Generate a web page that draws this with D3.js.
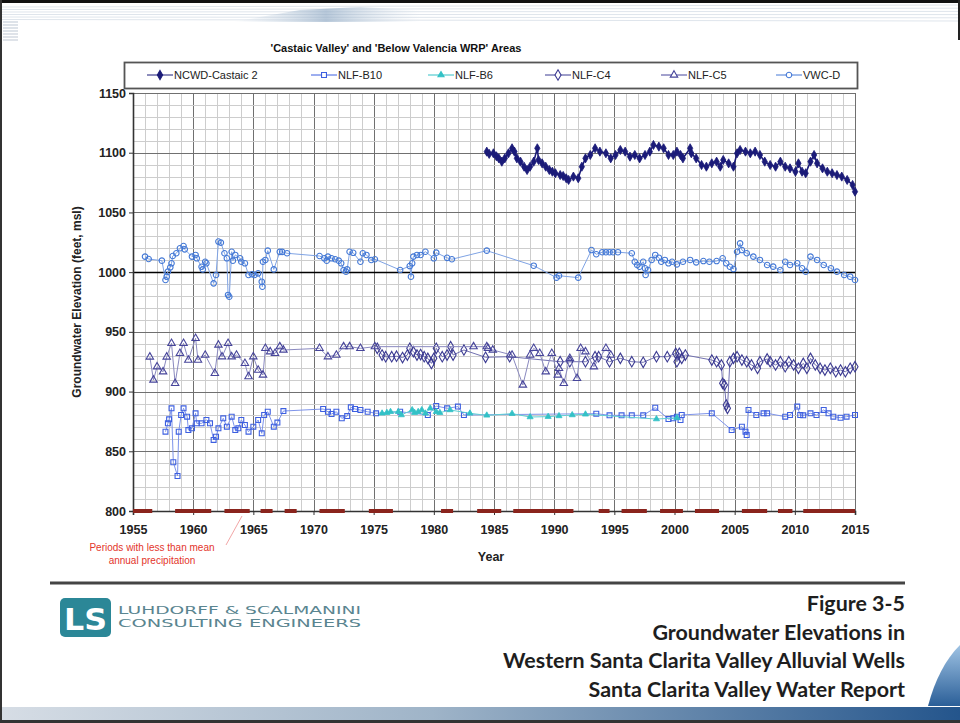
<!DOCTYPE html>
<html>
<head>
<meta charset="utf-8">
<script src="https://cdn.jsdelivr.net/npm/d3@7"></script>
<style>
  body { margin: 0; background: #fff; }
  svg { display: block; font-family: "Liberation Sans", Arial, sans-serif; }
</style>
</head>
<body>
<div id="chart"></div>
<script>
// ---- data: [year, elevation (ft msl)] ----
var ncwdCastaic2 = [[1984.4,1100.9],[1984.6,1099],[1984.95,1099.5],[1985.2,1097],[1985.4,1095.3],[1985.65,1092.5],[1985.9,1095.3],[1986.2,1099.5],[1986.5,1103.7],[1986.7,1100.9],[1986.9,1095.3],[1987.2,1092.5],[1987.5,1088.3],[1987.75,1085.5],[1988.0,1088.3],[1988.3,1092.5],[1988.6,1103.7],[1988.7,1093.9],[1989.0,1091.1],[1989.3,1088.3],[1989.6,1085.5],[1989.85,1084.1],[1990.1,1082.8],[1990.5,1081.3],[1990.75,1080.5],[1991.0,1078.6],[1991.2,1077.2],[1991.6,1080],[1992.0,1078.6],[1992.3,1088.3],[1992.6,1095.3],[1993.0,1098.1],[1993.4,1103.7],[1993.8,1100.9],[1994.3,1099.5],[1994.7,1095.3],[1995.1,1098.1],[1995.5,1102.3],[1995.9,1100.9],[1996.3,1096.7],[1996.7,1098.1],[1997.1,1095.3],[1997.55,1098.1],[1997.95,1100.9],[1998.25,1106.5],[1998.7,1105.1],[1999.1,1103.7],[1999.5,1098.1],[1999.9,1098.1],[2000.2,1100.9],[2000.5,1098.1],[2000.7,1095.3],[2001.3,1103.7],[2001.4,1099.5],[2001.8,1095.3],[2002.25,1089.7],[2002.65,1088.3],[2003.1,1091.1],[2003.5,1092.5],[2003.8,1088.3],[2004.05,1093.9],[2004.5,1091.1],[2004.9,1088.3],[2005.2,1099.5],[2005.45,1102.3],[2005.9,1100.9],[2006.3,1099.5],[2006.7,1100.9],[2007.1,1098.1],[2007.5,1092.5],[2007.95,1089.7],[2008.4,1088.3],[2008.8,1092.5],[2009.2,1088.3],[2009.6,1086.9],[2010.05,1084.1],[2010.3,1091.1],[2010.6,1084.1],[2010.9,1082.8],[2011.3,1092.5],[2011.6,1098.1],[2011.85,1091.1],[2012.3,1086.9],[2012.7,1084.1],[2013.1,1082.8],[2013.5,1081.3],[2013.9,1080],[2014.35,1077.2],[2014.8,1073],[2015.0,1067.4]];

var nlfB10 = [[1957.7,866.4],[1957.9,873.4],[1958.0,876.8],[1958.2,886],[1958.35,840.8],[1958.7,829.3],[1958.8,866.4],[1959.0,880.4],[1959.2,886],[1959.5,879],[1959.6,867.8],[1959.9,869.2],[1960.2,881.8],[1960.3,873.4],[1960.7,873.4],[1961.1,876.2],[1961.4,873.4],[1961.7,859.5],[1961.9,862.2],[1962.1,869.2],[1962.5,877.6],[1962.8,870.6],[1963.2,879],[1963.5,867.8],[1963.75,869.2],[1964.0,876.2],[1964.3,872],[1964.6,866.4],[1965.0,870.6],[1965.4,876.2],[1965.7,865],[1965.9,880.4],[1966.2,883.1],[1966.7,870.6],[1967.0,874],[1967.5,883.7],[1970.8,885.4],[1971.2,883.1],[1971.5,881.2],[1971.9,883.1],[1972.35,877.6],[1972.8,879.5],[1973.1,886.8],[1973.45,885.4],[1973.9,884.6],[1974.5,883.1],[1975.2,881.8],[1977.2,883.1],[1979.5,880.4],[1980.2,887.9],[1981.1,886],[1982.0,887.4],[1982.5,880.4],[1993.5,881.5],[1994.6,880.1],[1995.6,880.1],[1996.45,880.1],[1997.4,880.1],[1998.4,886.5],[1999.5,877],[1999.9,877.6],[2000.2,879],[2000.5,876.2],[2000.6,880.4],[2003.1,881.8],[2004.75,867.8],[2005.6,870.6],[2005.9,866.4],[2006.0,863.6],[2006.15,884.6],[2006.8,880.4],[2007.4,881.8],[2007.7,881.8],[2009.2,879],[2009.6,880.4],[2010.2,887.4],[2010.45,880.4],[2010.7,880.1],[2011.3,881.8],[2011.8,880.4],[2012.4,884.6],[2012.8,881.8],[2013.2,879],[2013.8,878.1],[2014.3,879],[2015.0,880.4]];

var nlfB6 = [[1975.7,881.8],[1976.1,882.3],[1976.4,883.1],[1977.05,883.1],[1977.3,880.4],[1978.2,884.6],[1978.4,882.3],[1978.7,883.1],[1979.0,884.6],[1979.3,881.8],[1979.7,886],[1980.2,883.1],[1980.5,882.3],[1981.35,884.6],[1983.0,881.8],[1984.4,880.1],[1986.5,881.5],[1988.0,878.7],[1989.5,879],[1990.4,879.6],[1991.5,880.4],[1992.6,881],[1998.5,877],[2000.2,878]];

var nlfC4 = [[1975.3,936.2],[1975.7,930.6],[1976.0,929.2],[1976.5,929.2],[1976.9,929.6],[1977.4,928.5],[1977.8,930.6],[1978.0,936.2],[1978.3,933.4],[1978.6,930.6],[1978.9,931],[1979.2,929.2],[1979.5,927.8],[1979.8,923.6],[1980.0,927.8],[1980.2,936.2],[1980.7,929.2],[1981.1,930.6],[1981.4,937.6],[1981.6,930.6],[1982.5,934.8],[1984.3,928.7],[1986.3,929.2],[1990.5,925],[1991.3,925],[1992.6,925],[1993.4,929.2],[1993.7,929.2],[1994.6,925],[1995.5,927.8],[1996.45,925],[1997.4,924.5],[1998.5,929.2],[1999.4,929.2],[2000.1,932],[2000.2,925],[2000.4,932],[2000.6,927.8],[2000.9,930.6],[2003.1,926.4],[2003.5,925],[2003.9,922.3],[2004.0,906.9],[2004.15,905.5],[2004.3,888.7],[2004.4,886],[2004.6,925],[2004.9,927.8],[2005.2,929.2],[2005.6,926.4],[2006.0,925],[2006.4,922.3],[2006.9,919.5],[2007.1,925],[2007.7,927.3],[2007.95,925],[2008.4,922.3],[2008.8,925],[2009.2,920.8],[2009.5,925],[2009.9,922.3],[2010.3,919.5],[2010.7,923.6],[2011.0,919.5],[2011.3,927.8],[2011.7,922.3],[2012.1,919.5],[2012.5,918],[2012.95,919.5],[2013.4,916.6],[2013.8,918],[2014.2,916.6],[2014.6,919.5],[2015.0,920.8]];

var nlfC5 = [[1956.4,929],[1956.7,909.7],[1957.0,920.8],[1957.5,916.6],[1957.8,929],[1958.2,940.4],[1958.5,906.9],[1958.9,932],[1959.2,940.4],[1959.6,926.4],[1960.2,944.6],[1960.4,926.4],[1961.0,930.6],[1961.8,915.3],[1962.1,939],[1962.4,929.2],[1962.9,940.4],[1963.2,929.2],[1963.6,930.6],[1964.3,923.6],[1964.6,912.5],[1965.0,929.2],[1965.4,918],[1965.8,913.9],[1966.0,936.2],[1966.4,933.4],[1966.8,932],[1967.2,937.6],[1967.5,934.8],[1970.5,936.2],[1971.2,929.2],[1971.9,930.6],[1972.5,937.6],[1973.0,937.6],[1973.9,936.2],[1975.1,937.6],[1983.3,937.6],[1984.4,937.6],[1984.5,936.2],[1984.9,934.8],[1986.5,930.6],[1987.4,905.5],[1988.0,930.6],[1988.3,936.2],[1988.8,932],[1989.3,916.6],[1989.8,932],[1990.3,913.9],[1990.4,919.5],[1990.8,906.9],[1991.3,927.8],[1991.9,911.1],[1992.2,936.2],[1992.6,933.4],[1993.3,920.8],[1994.3,936.2],[1994.7,930.6]];

var vwcD = [[1956.0,1013],[1956.3,1011],[1957.4,1009.6],[1957.7,993.4],[1957.8,996.2],[1957.9,1000.4],[1958.1,1004],[1958.2,1007.4],[1958.3,1013.5],[1958.6,1015.8],[1958.9,1020],[1959.2,1021.9],[1959.3,1019.1],[1959.9,1013],[1960.2,1014.4],[1960.3,1011.6],[1960.7,1004.5],[1960.8,1002.3],[1961.0,1008.7],[1961.1,1007.4],[1961.7,990.6],[1961.9,997.6],[1962.1,1025.6],[1962.3,1024.7],[1962.6,1015.8],[1962.8,1011.6],[1962.9,980.9],[1963.0,979.4],[1963.2,1017.1],[1963.3,1009.6],[1963.5,1014.4],[1963.9,1011.6],[1964.0,1008.7],[1964.3,1007.4],[1964.6,997.6],[1964.9,998.2],[1965.1,997.6],[1965.4,999],[1965.7,992],[1965.75,987.8],[1965.8,1008.7],[1966.0,1010.2],[1966.2,1018],[1966.7,1002.3],[1967.2,1017],[1967.4,1017],[1967.8,1015.8],[1970.5,1013.5],[1970.9,1011.6],[1971.1,1009.6],[1971.2,1013],[1971.5,1011.6],[1971.8,1010.8],[1972.1,1009.6],[1972.3,1007.4],[1972.5,1001.8],[1972.7,1000.4],[1972.8,1002.3],[1973.0,1017.1],[1973.3,1016.2],[1973.9,1008.7],[1974.1,1015.8],[1974.4,1014.4],[1974.8,1010.2],[1975.1,1010.8],[1977.2,1001.8],[1978.0,1005.1],[1978.1,996.2],[1978.2,1007.4],[1978.3,1013],[1978.6,1014.4],[1978.9,1014.4],[1979.3,1017.1],[1980.0,1011.6],[1980.2,1016.3],[1981.1,1012],[1981.5,1010.8],[1984.4,1018],[1988.3,1005.4],[1990.2,995.4],[1990.4,997],[1992.0,995.4],[1993.1,1018.5],[1993.5,1015],[1994.0,1016.7],[1994.3,1016.7],[1994.6,1016.7],[1994.9,1016.7],[1995.3,1016.7],[1996.45,1015.8],[1996.7,1008.7],[1996.9,1006],[1997.1,1004.5],[1997.4,1008.7],[1997.55,1003.2],[1997.6,997.6],[1997.8,1001.8],[1998.1,1010.2],[1998.4,1014.4],[1998.7,1012.1],[1998.9,1008.7],[1999.2,1010.2],[1999.5,1007.4],[1999.8,1008.7],[2000.2,1006.5],[2000.7,1008.7],[2001.3,1010.2],[2001.8,1008.2],[2002.4,1009.3],[2002.9,1008.7],[2003.5,1009.3],[2004.0,1011.6],[2004.3,1007.4],[2004.6,1004.5],[2004.9,1002.6],[2005.2,1017.1],[2005.45,1024.1],[2005.6,1018.5],[2006.0,1015.8],[2006.55,1013],[2007.1,1010.2],[2007.7,1006],[2008.2,1004.6],[2008.8,1001.8],[2009.2,1008.7],[2009.6,1006],[2010.2,1007.4],[2010.6,1003.2],[2010.9,1000.4],[2011.3,1013],[2011.85,1010.2],[2012.4,1006],[2013.0,1003.2],[2013.5,1000.4],[2014.1,997.6],[2014.6,996.2],[2015.0,993.4]];

// periods with less than mean annual precipitation [start, end]
var dryPeriods = [[1955,1956.6],[1958.5,1961.5],[1962.6,1964.7],[1965.6,1966.6],[1967.6,1968.6],[1970.5,1972.6],[1974.6,1976.6],[1980.6,1981.6],[1983.6,1985.6],[1986.6,1991.6],[1993.7,1994.6],[1995.6,1997.7],[1998.8,2000.7],[2001.7,2003.7],[2005.6,2007.7],[2008.6,2009.8],[2010.7,2015]];

var seriesNames = ["NCWD-Castaic 2", "NLF-B10", "NLF-B6", "NLF-C4", "NLF-C5", "VWC-D"];
var yTicks = [800, 850, 900, 950, 1000, 1050, 1100, 1150];
var xTicks = [1955, 1960, 1965, 1970, 1975, 1980, 1985, 1990, 1995, 2000, 2005, 2010, 2015];
var figureLines = ["Figure 3-5", "Groundwater Elevations in", "Western Santa Clarita Valley Alluvial Wells", "Santa Clarita Valley Water Report"];

var width = 960, height = 723;

var svg = d3.select("#chart").append("svg")
    .attr("width", width)
    .attr("height", height);

var defs = svg.append("defs");
var gBand = defs.append("linearGradient").attr("id", "band");
gBand.append("stop").attr("offset", "0%").attr("stop-color", "#d6dde5");
gBand.append("stop").attr("offset", "45%").attr("stop-color", "#9fb4c8");
gBand.append("stop").attr("offset", "100%").attr("stop-color", "#24558c");
var gSwoosh = defs.append("linearGradient").attr("id", "swoosh").attr("x1", 0).attr("y1", 0).attr("x2", 0).attr("y2", 1);
gSwoosh.append("stop").attr("offset", "0%").attr("stop-color", "#9fc3e4");
gSwoosh.append("stop").attr("offset", "100%").attr("stop-color", "#2b5f98");
var gTop = defs.append("linearGradient").attr("id", "topfade");
gTop.append("stop").attr("offset", "0%").attr("stop-color", "#c8d6e4").attr("stop-opacity", 0);
gTop.append("stop").attr("offset", "50%").attr("stop-color", "#8fa9c4").attr("stop-opacity", 0.9);
gTop.append("stop").attr("offset", "100%").attr("stop-color", "#c8d6e4").attr("stop-opacity", 0);

// ---- slide frame decoration ----
svg.append("rect").attr("x", 0).attr("y", 0).attr("width", width).attr("height", 3).attr("fill", "#111");
d3.range(6).forEach(function (i) {
    svg.append("line")
        .attr("x1", 0).attr("y1", 7 + i * 2.5)
        .attr("x2", width).attr("y2", 5 + i * 3.2)
        .attr("stroke", "#dfe5ec").attr("stroke-width", 1);
});
svg.append("path")
    .attr("d", "M232,22 L300,10 L360,7 L420,10 L420,22 Z")
    .attr("fill", "url(#topfade)").attr("opacity", 0.7);
d3.range(7).forEach(function (i) {
    svg.append("line")
        .attr("x1", 3).attr("x2", 18)
        .attr("y1", 22 + i * 3).attr("y2", 22 + i * 3)
        .attr("stroke", "#c9d1da").attr("stroke-width", 1.2);
});
svg.append("path")
    .attr("d", "M928,706 C935,680 945,660 960,645 L960,706 Z")
    .attr("fill", "url(#swoosh)");
svg.append("rect").attr("x", 0).attr("y", 707).attr("width", width).attr("height", 14).attr("fill", "url(#band)");
svg.append("rect").attr("x", 0).attr("y", 720).attr("width", width).attr("height", 3).attr("fill", "#333");
svg.append("rect").attr("x", 0).attr("y", 0).attr("width", 2).attr("height", height).attr("fill", "#333");
svg.append("rect").attr("x", width - 2).attr("y", 0).attr("width", 2).attr("height", 40).attr("fill", "#222");

// ---- scales ----
var x = d3.scaleLinear().domain([1955, 2015]).range([133, 855]);
var y = d3.scaleLinear().domain([800, 1150]).range([511, 93]);

// ---- grid ----
var grid = svg.append("g");
grid.selectAll(".vg").data(d3.range(1955, 2016)).enter().append("line")
    .attr("x1", function (d) { return Math.round(x(d)) + 0.5; })
    .attr("x2", function (d) { return Math.round(x(d)) + 0.5; })
    .attr("y1", y(1150)).attr("y2", y(800))
    .attr("stroke", function (d) { return d % 5 === 0 ? "#707070" : "#cdcdcd"; })
    .attr("stroke-width", 1);
grid.selectAll(".hg").data(d3.range(800, 1151, 10)).enter().append("line")
    .attr("y1", function (d) { return Math.round(y(d)) + 0.5; })
    .attr("y2", function (d) { return Math.round(y(d)) + 0.5; })
    .attr("x1", x(1955)).attr("x2", x(2015))
    .attr("stroke", function (d) { return d === 1000 ? "#000" : (d % 50 === 0 ? "#707070" : "#cdcdcd"); })
    .attr("stroke-width", function (d) { return d === 1000 ? 1.6 : 1; });

// ---- axes ----
var yAxis = svg.append("g")
    .attr("transform", "translate(" + x(1955) + ",0)")
    .call(d3.axisLeft(y).tickValues(yTicks).tickFormat(d3.format("d")).tickSize(4).tickPadding(3));
var xAxis = svg.append("g")
    .attr("transform", "translate(0," + y(800) + ")")
    .call(d3.axisBottom(x).tickValues(xTicks).tickFormat(d3.format("d")).tickSize(4).tickPadding(10));
[yAxis, xAxis].forEach(function (g) {
    g.select(".domain").attr("stroke", "#333").attr("stroke-width", 1.6);
    g.selectAll(".tick line").attr("stroke", "#333");
    g.selectAll(".tick text")
        .attr("font-family", "'Liberation Sans', Arial, sans-serif")
        .attr("font-size", 12.5).attr("font-weight", "bold").attr("fill", "#222");
});

// ---- dry-period bars ----
svg.append("g").selectAll("rect").data(dryPeriods).enter().append("rect")
    .attr("x", function (d) { return x(d[0]); })
    .attr("width", function (d) { return x(d[1]) - x(d[0]); })
    .attr("y", y(800) - 2).attr("height", 4)
    .attr("fill", "#8a241d");

// ---- series ----
var series = [
    { name: seriesNames[0], data: ncwdCastaic2, color: "#1b1b78", line: "#1b1b78", lw: 1.6, sym: d3.symbolDiamond, size: 24, filled: true },
    { name: seriesNames[1], data: nlfB10, color: "#3d5fe0", line: "#7d93ea", lw: 1, sym: d3.symbolSquare, size: 24, filled: false },
    { name: seriesNames[2], data: nlfB6, color: "#33c1c6", line: "#5fd0d4", lw: 1, sym: d3.symbolTriangle, size: 16, filled: true },
    { name: seriesNames[3], data: nlfC4, color: "#3b3a92", line: "#7170b0", lw: 1, sym: d3.symbolDiamond, size: 32, filled: false },
    { name: seriesNames[4], data: nlfC5, color: "#47459b", line: "#8a89bf", lw: 1, sym: d3.symbolTriangle, size: 24, filled: false },
    { name: seriesNames[5], data: vwcD, color: "#4479d6", line: "#7fa3e4", lw: 1, sym: d3.symbolCircle, size: 24, filled: false }
];

var line = d3.line()
    .x(function (d) { return x(d[0]); })
    .y(function (d) { return y(d[1]); });

series.forEach(function (s) {
    var g = svg.append("g");
    g.append("path")
        .datum(s.data)
        .attr("d", line)
        .attr("fill", "none")
        .attr("stroke", s.line)
        .attr("stroke-width", s.lw);
    g.selectAll("path.pt").data(s.data).enter().append("path")
        .attr("class", "pt")
        .attr("transform", function (d) { return "translate(" + x(d[0]) + "," + y(d[1]) + ")"; })
        .attr("d", d3.symbol().type(s.sym).size(s.size))
        .attr("fill", s.filled ? s.color : "none")
        .attr("stroke", s.color)
        .attr("stroke-width", s.filled ? 0.8 : 1.1);
});

// ---- title & legend ----
svg.append("text")
    .attr("x", 396).attr("y", 52)
    .attr("text-anchor", "middle")
    .attr("font-size", 11).attr("font-weight", "bold").attr("fill", "#111")
    .text("'Castaic Valley' and 'Below Valencia WRP' Areas");

svg.append("rect")
    .attr("x", 124.5).attr("y", 62.5).attr("width", 733).attr("height", 26)
    .attr("fill", "#fff").attr("stroke", "#555").attr("stroke-width", 1.8);

var legendX = [147, 311, 428, 545, 661, 776];
series.forEach(function (s, i) {
    var g = svg.append("g").attr("transform", "translate(" + legendX[i] + ",75)");
    g.append("line").attr("x1", 0).attr("x2", 26).attr("stroke", s.color).attr("stroke-width", 1);
    g.append("path")
        .attr("transform", "translate(13,0)")
        .attr("d", d3.symbol().type(s.sym).size(s.size))
        .attr("fill", s.filled ? s.color : "#fff")
        .attr("stroke", s.color).attr("stroke-width", 1.1);
    g.append("text").attr("x", 27).attr("y", 4)
        .attr("font-size", 11).attr("fill", "#222")
        .text(s.name);
});

// ---- axis titles ----
svg.append("text")
    .attr("transform", "translate(81,302) rotate(-90)")
    .attr("text-anchor", "middle")
    .attr("font-size", 12).attr("font-weight", "bold").attr("fill", "#222")
    .text("Groundwater Elevation (feet, msl)");
svg.append("text")
    .attr("x", 491).attr("y", 561)
    .attr("text-anchor", "middle")
    .attr("font-size", 12.5).attr("font-weight", "bold").attr("fill", "#222")
    .text("Year");

// ---- dry period annotation ----
svg.append("line")
    .attr("x1", 226).attr("y1", 545).attr("x2", 242).attr("y2", 516)
    .attr("stroke", "#f2a6a6").attr("stroke-width", 1);
svg.append("text").attr("x", 152).attr("y", 551).attr("text-anchor", "middle")
    .attr("font-size", 10).attr("fill", "#e3352b").text("Periods with less than mean");
svg.append("text").attr("x", 152).attr("y", 564).attr("text-anchor", "middle")
    .attr("font-size", 10).attr("fill", "#e3352b").text("annual precipitation");

// ---- footer ----
svg.append("rect").attr("x", 50).attr("y", 581.5).attr("width", 855).attr("height", 3).attr("fill", "#444");

svg.append("rect").attr("x", 60).attr("y", 598).attr("width", 51).attr("height", 39).attr("rx", 5)
    .attr("fill", "#2b8797");
svg.append("text").attr("x", 64).attr("y", 630)
    .attr("font-family", "'DejaVu Sans', sans-serif")
    .attr("font-size", 31).attr("font-weight", "bold").attr("fill", "#fff")
    .attr("textLength", 43).attr("lengthAdjust", "spacingAndGlyphs")
    .text("LS");
svg.append("text").attr("x", 118).attr("y", 614)
    .attr("font-family", "'DejaVu Sans', sans-serif")
    .attr("font-size", 10.5).attr("fill", "#5a8590")
    .attr("textLength", 243).attr("lengthAdjust", "spacingAndGlyphs")
    .text("LUHDORFF & SCALMANINI");
svg.append("text").attr("x", 118).attr("y", 627)
    .attr("font-family", "'DejaVu Sans', sans-serif")
    .attr("font-size", 10.5).attr("fill", "#5a8590")
    .attr("textLength", 243).attr("lengthAdjust", "spacingAndGlyphs")
    .text("CONSULTING ENGINEERS");

var figY = [611, 640, 668, 697];
var figTexts = svg.append("g").selectAll("text").data(figureLines).enter().append("text")
    .attr("x", 905)
    .attr("y", function (d, i) { return figY[i]; })
    .attr("text-anchor", "end")
    .attr("font-family", "Lato, 'Open Sans', sans-serif")
    .attr("font-weight", "bold")
    .attr("font-size", 18)
    .attr("fill", "#1e1e1e")
    .text(function (d) { return d; });
var longest = figTexts.filter(function (d, i) { return i === 2; }).node().getComputedTextLength();
figTexts.attr("font-size", 18 * 402 / longest);
</script>
</body>
</html>
